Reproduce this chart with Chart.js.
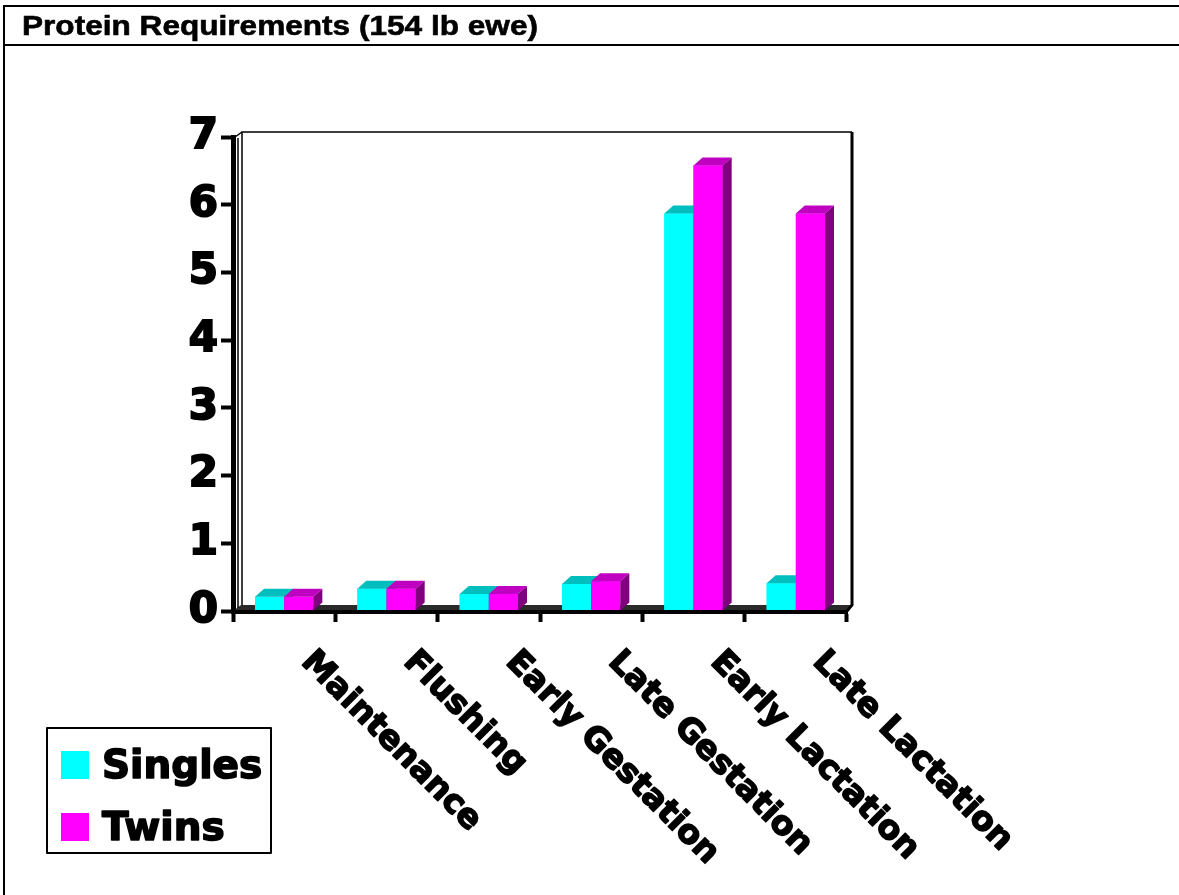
<!DOCTYPE html>
<html>
<head>
<meta charset="utf-8">
<script src="https://cdn.jsdelivr.net/npm/chart.js@4"></script>
<style>
  html, body { margin: 0; padding: 0; background: #fff; }
  #wrap { width: 1179px; height: 895px; position: relative; }
</style>
</head>
<body>
<div id="wrap"><canvas id="c" width="1179" height="895"></canvas></div>
<script>
const titleText = 'Protein Requirements (154 lb ewe)';
const categories = ['Maintenance', 'Flushing', 'Early Gestation', 'Late Gestation', 'Early Lactation', 'Late Lactation'];
const seriesNames = ['Singles', 'Twins'];
const singles = [0.21, 0.33, 0.25, 0.40, 5.87, 0.41];
const twins = [0.21, 0.33, 0.25, 0.44, 6.58, 5.87];
const yTicks = [0, 1, 2, 3, 4, 5, 6, 7];

const frontColors = ['#00FFFF', '#FF00FF'];
const topColors = ['#00BEBE', '#C000C0'];
const sideColors = ['#008080', '#800080'];

const DX = 9, DY = 8;           // bar depth
const WX = 8, WY = 6;           // wall depth

const chromePlugin = {
  id: 'chrome',
  beforeDraw(chart) {
    const ctx = chart.ctx;
    ctx.save();
    ctx.fillStyle = '#fff';
    ctx.fillRect(0, 0, chart.width, chart.height);
    ctx.strokeStyle = '#000';
    ctx.lineWidth = 2;
    ctx.beginPath();
    ctx.moveTo(4, 900); ctx.lineTo(4, 6); ctx.lineTo(1185, 6);
    ctx.moveTo(4, 45); ctx.lineTo(1185, 45);
    ctx.stroke();
    // title, stretched horizontally to match
    ctx.font = 'bold 28px "Liberation Sans", Arial, sans-serif';
    ctx.fillStyle = '#000';
    ctx.strokeStyle = '#000';
    ctx.lineWidth = 0.6;
    ctx.textBaseline = 'alphabetic';
    const w = ctx.measureText(titleText).width;
    const sx = 516 / w;
    ctx.translate(22, 35);
    ctx.scale(sx, 1);
    ctx.fillText(titleText, 0, 0);
    ctx.strokeText(titleText, 0, 0);
    ctx.restore();
  },
  beforeDatasetsDraw(chart) {
    const ctx = chart.ctx;
    const a = chart.chartArea;
    ctx.save();
    // floor
    ctx.fillStyle = '#2a2a2a';
    ctx.beginPath();
    ctx.moveTo(a.left, a.bottom);
    ctx.lineTo(a.left + WX, a.bottom - WY);
    ctx.lineTo(a.right + WX - 2, a.bottom - WY);
    ctx.lineTo(a.right, a.bottom);
    ctx.closePath();
    ctx.fill();
    // back wall
    ctx.strokeStyle = '#000';
    ctx.lineWidth = 1.5;
    ctx.beginPath();
    ctx.moveTo(a.left + WX + 1, a.bottom - WY);
    ctx.lineTo(a.left + WX + 1, a.top - 5);
    ctx.lineTo(a.right + 5, a.top - 5);
    ctx.stroke();
    ctx.beginPath();
    ctx.moveTo(a.left + 5, a.top + 1);
    ctx.lineTo(a.left + 5, a.bottom - 3);
    ctx.stroke();
    ctx.beginPath();
    ctx.moveTo(a.left + 2, a.top);
    ctx.lineTo(a.left + WX + 1, a.top - 5);
    ctx.stroke();
    ctx.lineWidth = 3;
    ctx.beginPath();
    ctx.moveTo(a.right + 5, a.top - 5);
    ctx.lineTo(a.right + 5, a.bottom - WY);
    ctx.lineTo(a.right, a.bottom);
    ctx.stroke();
    ctx.restore();
  },
  afterDatasetsDraw(chart) {
    const ctx = chart.ctx;
    const metas = [chart.getDatasetMeta(0), chart.getDatasetMeta(1)];
    ctx.save();
    for (let i = 0; i < categories.length; i++) {
      for (let d = 0; d < 2; d++) {
        const el = metas[d].data[i];
        const l = el.x - el.width / 2, r = el.x + el.width / 2;
        const t = el.y, b = el.base;
        ctx.fillStyle = frontColors[d];
        ctx.fillRect(l, t, r - l, b - t);
        ctx.fillStyle = topColors[d];
        ctx.beginPath();
        ctx.moveTo(l, t); ctx.lineTo(l + DX, t - DY); ctx.lineTo(r + DX, t - DY); ctx.lineTo(r, t);
        ctx.closePath(); ctx.fill();
        ctx.fillStyle = sideColors[d];
        ctx.beginPath();
        ctx.moveTo(r, t); ctx.lineTo(r + DX, t - DY); ctx.lineTo(r + DX, b - DY); ctx.lineTo(r, b);
        ctx.closePath(); ctx.fill();
      }
    }
    // front floor edge
    const a = chart.chartArea;
    ctx.strokeStyle = '#000';
    ctx.lineWidth = 4;
    ctx.beginPath();
    ctx.moveTo(a.left, a.bottom + 1);
    ctx.lineTo(a.right, a.bottom + 1);
    ctx.stroke();
    ctx.restore();
  },
  afterDraw(chart) {
    const ctx = chart.ctx;
    const xs = chart.scales.x;
    const a = chart.chartArea;
    ctx.save();
    // rotated category labels
    ctx.font = 'bold 33px "DejaVu Sans", Verdana, sans-serif';
    ctx.fillStyle = '#000';
    ctx.strokeStyle = '#000';
    ctx.lineWidth = 1.6;
    ctx.lineJoin = 'round';
    ctx.textAlign = 'left';
    ctx.textBaseline = 'alphabetic';
    categories.forEach((c, i) => {
      const x = xs.getPixelForValue(i);
      ctx.save();
      ctx.translate(x + 16, a.bottom + 52);
      ctx.rotate(Math.PI / 4);
      ctx.fillText(c, 0, 0);
      ctx.strokeText(c, 0, 0);
      ctx.restore();
    });
    // legend
    ctx.lineWidth = 2;
    ctx.strokeRect(47, 728, 224, 125);
    ctx.font = 'bold 39px "DejaVu Sans", Verdana, sans-serif';
    ctx.lineWidth = 1.6;
    seriesNames.forEach((n, i) => {
      const y = 751 + i * 62;
      ctx.fillStyle = frontColors[i];
      ctx.fillRect(61, y, 28, 28);
      ctx.fillStyle = '#000';
      ctx.fillText(n, 102, y + 27);
      ctx.strokeText(n, 102, y + 27);
    });
    ctx.restore();
  }
};

new Chart(document.getElementById('c'), {
  type: 'bar',
  data: {
    labels: categories,
    datasets: [
      { label: seriesNames[0], data: singles, backgroundColor: frontColors[0], borderWidth: 0 },
      { label: seriesNames[1], data: twins, backgroundColor: frontColors[1], borderWidth: 0 }
    ]
  },
  options: {
    responsive: false,
    devicePixelRatio: 1,
    animation: false,
    categoryPercentage: 0.57,
    barPercentage: 1.0,
    layout: { padding: { left: 0, right: 332, top: 137, bottom: 0 } },
    plugins: { legend: { display: false }, title: { display: false }, tooltip: { enabled: false } },
    scales: {
      x: {
        offset: true,
        grid: { offset: true, drawOnChartArea: false, drawTicks: true, tickLength: 11, tickColor: '#000', tickWidth: 4 },
        border: { display: true, color: '#000', width: 5 },
        ticks: { display: false },
        afterFit(s) { s.height = 895 - 611; }
      },
      y: {
        min: 0, max: 7,
        afterBuildTicks(s) { s.ticks = yTicks.map(v => ({ value: v })); },
        grid: { drawOnChartArea: false, drawTicks: true, tickLength: 12, tickColor: '#000', tickWidth: 4 },
        border: { display: true, color: '#000', width: 5 },
        ticks: { color: '#000', padding: 3, textStrokeColor: '#000', textStrokeWidth: 2,
                 font: { family: '"DejaVu Sans", Verdana, sans-serif', size: 42, weight: 'bold' } },
        afterFit(s) { s.width = 233; }
      }
    }
  },
  plugins: [chromePlugin]
});
</script>
</body>
</html>
